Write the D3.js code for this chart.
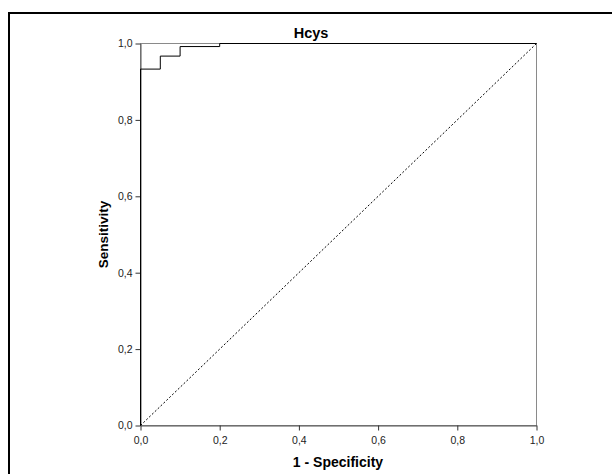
<!DOCTYPE html>
<html>
<head>
<meta charset="utf-8">
<script src="https://cdn.jsdelivr.net/npm/d3@7"></script>
<style>
  body { margin: 0; background: #fff; }
  svg { display: block; font-family: Arial, "Liberation Sans", sans-serif; }
</style>
</head>
<body>
<div class="graph"></div>
<script>
// ROC curve points (1 - specificity, sensitivity)
const fpr = [0, 0, 0.05, 0.05, 0.10, 0.10, 0.20, 0.20, 1.0];
const tpr = [0, 0.933, 0.933, 0.967, 0.967, 0.992, 0.992, 1.0, 1.0];
const refLine = [0, 1];
const tickValues = [0, 0.2, 0.4, 0.6, 0.8, 1.0];
const title = "Hcys";
const xTitle = "1 - Specificity";
const yTitle = "Sensitivity";

const svg = d3.select(".graph").append("svg").attr("width", 612).attr("height", 474);

// outer frame (left + top visible)
svg.append("path")
    .attr("d", "M9,474 V13 H612")
    .attr("fill", "none")
    .attr("stroke", "#000")
    .attr("stroke-width", 2);

const pLeft = 140.5, pRight = 536.5, pTop = 43.5, pBottom = 425.5;
const x = d3.scaleLinear().domain([0, 1]).range([pLeft, pRight]);
const y = d3.scaleLinear().domain([0, 1]).range([pBottom, pTop]);
const fmt = d => d3.format(".1f")(d).replace(".", ",");

// plot frame
svg.append("rect")
    .attr("x", pLeft).attr("y", pTop)
    .attr("width", pRight - pLeft).attr("height", pBottom - pTop)
    .attr("fill", "none")
    .attr("stroke", "#8a8a8a")
    .attr("stroke-width", 1);

const xaxis = d3.axisBottom(x).tickValues(tickValues).tickFormat(fmt).tickSize(5).tickSizeOuter(0);
const yaxis = d3.axisLeft(y).tickValues(tickValues).tickFormat(fmt).tickSize(5).tickSizeOuter(0);

const gx = svg.append("g").attr("transform", "translate(0," + pBottom + ")").call(xaxis);
const gy = svg.append("g").attr("transform", "translate(" + pLeft + ",0)").call(yaxis);
[gx, gy].forEach(g => {
  g.select(".domain").attr("stroke", "#555");
  g.selectAll(".tick line").attr("stroke", "#333");
  g.selectAll(".tick text").attr("fill", "#222").style("font-size", "10.5px");
});
gx.selectAll(".tick text").attr("dy", "0").attr("y", 18.5);
gy.selectAll(".tick text").attr("x", -8);

// reference diagonal
svg.append("path")
    .attr("d", d3.line().x(d => x(d)).y(d => y(d))(refLine))
    .attr("fill", "none")
    .attr("stroke", "#000")
    .attr("stroke-width", 1)
    .attr("stroke-dasharray", "2,2");

// ROC curve
const pts = fpr.map((f, i) => [f, tpr[i]]);
svg.append("path")
    .attr("d", d3.line().x(d => x(d[0])).y(d => y(d[1]))(pts))
    .attr("fill", "none")
    .attr("stroke", "#000")
    .attr("stroke-width", 1);

svg.append("text")
    .attr("x", 311).attr("y", 37.5)
    .attr("text-anchor", "middle")
    .style("font-size", "14.5px").style("font-weight", "bold")
    .text(title);

svg.append("text")
    .attr("x", 338).attr("y", 466.5)
    .attr("text-anchor", "middle")
    .style("font-size", "14px").style("font-weight", "bold")
    .text(xTitle);

svg.append("text")
    .attr("transform", "translate(108," + (pTop + pBottom) / 2 + ") rotate(-90)")
    .attr("text-anchor", "middle")
    .style("font-size", "13.5px").style("font-weight", "bold")
    .text(yTitle);
</script>
</body>
</html>
